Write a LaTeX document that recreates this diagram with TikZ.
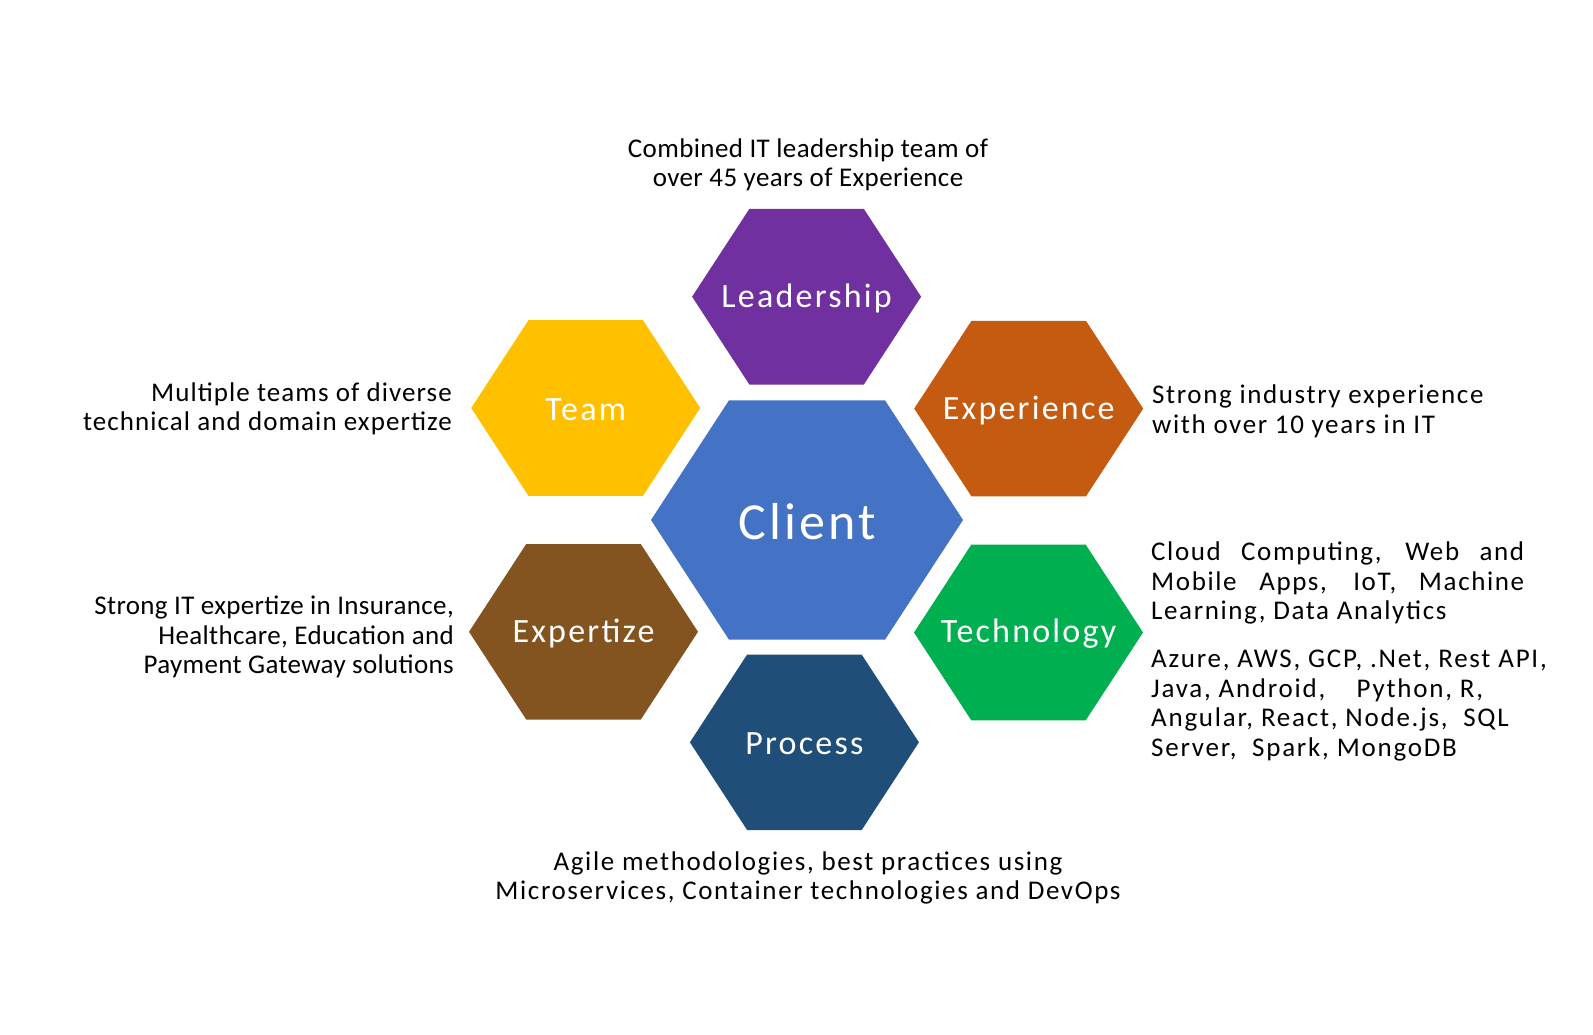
\documentclass[tikz,border=0pt]{standalone}
\usepackage{fontspec}
\setmainfont{Carlito}
\definecolor{cLead}{HTML}{7030A0}
\definecolor{cTeam}{HTML}{FFC000}
\definecolor{cExp}{HTML}{C55A11}
\definecolor{cClient}{HTML}{4472C4}
\definecolor{cExpz}{HTML}{835420}
\definecolor{cTech}{HTML}{00B050}
\definecolor{cProc}{HTML}{1F4E79}
\newcommand{\hexagonbox}[7]{%
  \fill[#6] ({#2-#4},#3) -- ({#2-#4/2},{#3-#5}) -- ({#2+#4/2},{#3-#5}) -- ({#2+#4},#3) -- ({#2+#4/2},{#3+#5}) -- ({#2-#4/2},{#3+#5}) -- cycle;
  \node[hexlabel] (#1) at (#2,{#3+1.5}) {#7};}
\newcommand{\bodyfont}[1]{\fontsize{27}{29.5}\selectfont\addfontfeature{LetterSpace=#1}}
\tikzset{
  hexlabel/.style={text=white, inner sep=0pt, font=\fontsize{34}{40}\selectfont\addfontfeature{LetterSpace=6.5}},
  desc/.style={inner sep=0pt, text=black}
}
\begin{document}
\begin{tikzpicture}[x=1pt,y=-1pt]
\useasboundingbox[fill=white] (0,0) rectangle (1593,1035);
\hexagonbox{client}{807}{520}{156}{119.7}{cClient}{\fontsize{52}{60}\selectfont\addfontfeature{LetterSpace=6}Client}
\hexagonbox{lead}{806.6}{296.7}{114.5}{87.8}{cLead}{Leadership}
\hexagonbox{team}{585.7}{408}{114.5}{87.8}{cTeam}{Team}
\hexagonbox{exp}{1028.7}{408.6}{114.5}{87.8}{cExp}{Experience}
\hexagonbox{expz}{583.5}{631.8}{114.5}{87.8}{cExpz}{Expertize}
\hexagonbox{tech}{1028.5}{632.5}{114.5}{87.8}{cTech}{Technology}
\hexagonbox{proc}{804.4}{742.3}{114.5}{87.8}{cProc}{Process}

\node[desc, align=center, font=\bodyfont{1.5}] (tlead) at (808,165) {Combined IT leadership team of\\over 45 years of Experience};
\node[desc, align=right, anchor=east, font=\bodyfont{4}] (tteam) at (452,409) {Multiple teams of diverse\\technical and domain expertize};
\node[desc, align=left, anchor=west, font=\bodyfont{6}] (texp) at (1152,411.5) {Strong industry experience\\with over 10 years in IT};
\node[desc, align=left, anchor=west, font=\bodyfont{6}] (ttech1) at (1151,583) {\makebox[373pt][s]{Cloud Computing, Web and}\\\makebox[373pt][s]{Mobile Apps, IoT, Machine}\\Learning, Data Analytics};
\node[desc, align=left, anchor=west, font=\bodyfont{6.5}] (ttech2) at (1151,705.5) {Azure, AWS, GCP, .Net, Rest API,\\Java, Android,\ \ \ \ Python, R,\\Angular, React, Node.js,\ \ SQL\\Server,\ \ Spark, MongoDB};
\node[desc, align=right, anchor=east, font=\bodyfont{1.3}] (texpz) at (454,637) {Strong IT expertize in Insurance,\\Healthcare, Education and\\Payment Gateway solutions};
\node[desc, align=center, font=\bodyfont{6}] (tproc) at (808,878) {Agile methodologies, best practices using\\Microservices, Container technologies and DevOps};
\end{tikzpicture}
\end{document}
